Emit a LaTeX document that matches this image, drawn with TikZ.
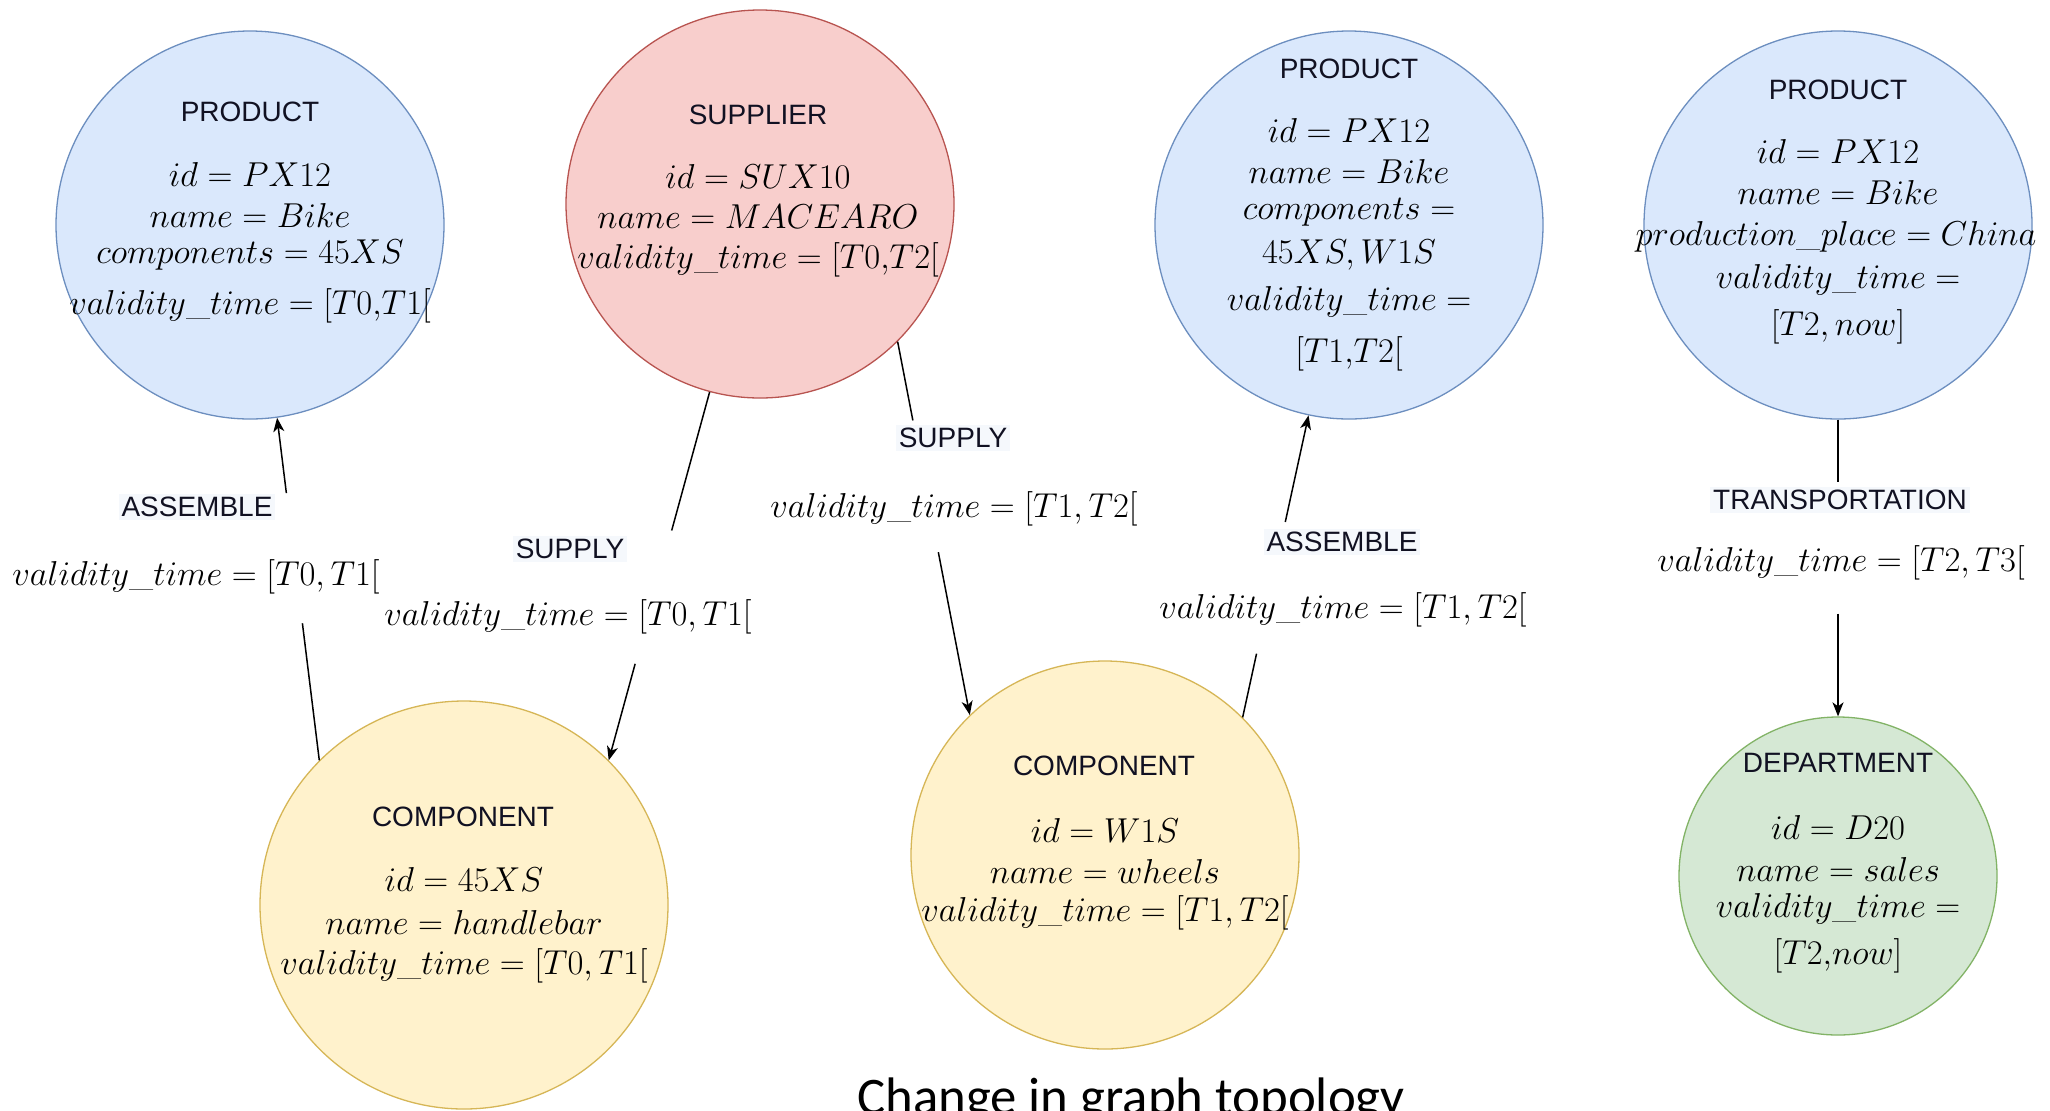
\documentclass[tikz,border=0pt]{standalone}
\usepackage{fontspec}
\setsansfont{Liberation Sans}
\newfontfamily\capfont{Carlito}
\usetikzlibrary{arrows.meta,calc}

\definecolor{bluefill}{HTML}{DAE8FC}
\definecolor{bluedraw}{HTML}{6C8EBF}
\definecolor{redfill}{HTML}{F8CECC}
\definecolor{reddraw}{HTML}{B85450}
\definecolor{yelfill}{HTML}{FFF2CC}
\definecolor{yeldraw}{HTML}{D6B656}
\definecolor{grnfill}{HTML}{D5E8D4}
\definecolor{grndraw}{HTML}{82B366}
\definecolor{lblbg}{HTML}{F5F8FC}
\definecolor{ink}{HTML}{111122}

\begin{document}
\begin{tikzpicture}[x=0.5pt,y=-0.5pt,
  ent/.style={circle,line width=0.65pt,inner sep=0pt,minimum size=194pt},
  bluent/.style={ent,fill=bluefill,draw=bluedraw},
  redent/.style={ent,fill=redfill,draw=reddraw},
  yelent/.style={ent,fill=yelfill,draw=yeldraw},
  grnent/.style={ent,fill=grnfill,draw=grndraw},
  ttl/.style={font=\sffamily\fontsize{14}{17}\selectfont,inner sep=0pt,text=ink},
  mth/.style={font=\fontsize{17.4}{21}\selectfont,inner sep=0pt},
  elbl/.style={font=\sffamily\fontsize{14}{17}\selectfont,fill=lblbg,inner sep=1.5pt,text=ink},
  conn/.style={line width=0.75pt},
  arr/.style={conn,-{Stealth[length=7pt,width=5.5pt,inset=2pt]}},
]
\path[use as bounding box] (0,0) rectangle (2050,1110);
\clip (0,0) rectangle (2050,1110);
\fill[white] (0,0) rectangle (2050,1110);

% entity circles
\node[bluent] (p1) at (250,225) {};
\node[redent] (sup) at (760,204) {};
\node[bluent] (p2) at (1349,225) {};
\node[bluent] (p3) at (1838,225) {};
\node[yelent,minimum size=204pt] (c1) at (464,905) {};
\node[yelent] (c2) at (1105,855) {};
\node[grnent,minimum size=159pt] (dep) at (1838,876) {};

% PRODUCT 1
\node[ttl] (p1t) at (250,112) {PRODUCT};
\node[mth] (p1a) at (250,174) {$id = PX12$};
\node[mth] (p1b) at (250,215) {$name = Bike$};
\node[mth] (p1c) at (250,255) {$components = 45XS$};
\node[mth] (p1d) at (250,306) {$validity\_time = [T0{,}T1[$};

% SUPPLIER
\node[ttl] (supt) at (758,115) {SUPPLIER};
\node[mth] (supa) at (758,176) {$id = SUX10$};
\node[mth] (supb) at (758,217) {$name = MACEARO$};
\node[mth] (supc) at (758,260) {$validity\_time = [T0{,}T2[$};

% PRODUCT 2
\node[ttl] (p2t) at (1349,69) {PRODUCT};
\node[mth] (p2a) at (1349,130) {$id = PX12$};
\node[mth] (p2b) at (1349,171) {$name = Bike$};
\node[mth] (p2c) at (1349,212) {$components =$};
\node[mth] (p2d) at (1349,255) {$45XS, W1S$};
\node[mth] (p2e) at (1349,302) {$validity\_time =$};
\node[mth] (p2f) at (1349,354) {$[T1{,}T2[$};

% PRODUCT 3
\node[ttl] (p3t) at (1838,90) {PRODUCT};
\node[mth] (p3a) at (1838,151) {$id = PX12$};
\node[mth] (p3b) at (1838,192) {$name = Bike$};
\node[mth] (p3c) at (1836,237) {$production\_place = China$};
\node[mth] (p3d) at (1838,280) {$validity\_time =$};
\node[mth] (p3e) at (1838,327) {$[T2, now]$};

% COMPONENT 1
\node[ttl] (c1t) at (463,817) {COMPONENT};
\node[mth] (c1a) at (464,879) {$id = 45XS$};
\node[mth] (c1b) at (464,922) {$name = handlebar$};
\node[mth] (c1c) at (464,966) {$validity\_time = [T0, T1[$};

% COMPONENT 2
\node[ttl] (c2t) at (1104,766) {COMPONENT};
\node[mth] (c2a) at (1105,830) {$id = W1S$};
\node[mth] (c2b) at (1105,871) {$name = wheels$};
\node[mth] (c2c) at (1105,913) {$validity\_time = [T1, T2[$};

% DEPARTMENT
\node[ttl] (dept) at (1838,763) {DEPARTMENT};
\node[mth] (depa) at (1838,827) {$id = D20$};
\node[mth] (depb) at (1838,869) {$name = sales$};
\node[mth] (depc) at (1838,909) {$validity\_time =$};
\node[mth] (depd) at (1838,956) {$[T2{,}now]$};

% connectors
\coordinate (a1s) at (c1.135);
\coordinate (a1e) at (p1.278);
\draw[conn] (a1s) -- ($(a1s)!0.40!(a1e)$);
\draw[arr] ($(a1s)!0.78!(a1e)$) -- (a1e);

\coordinate (s1s) at (sup.255);
\coordinate (s1e) at (c1.45);
\draw[conn] (s1s) -- ($(s1s)!0.376!(s1e)$);
\draw[arr] ($(s1s)!0.738!(s1e)$) -- (s1e);

\coordinate (s2s) at (sup.315);
\coordinate (s2e) at (c2.134);
\draw[conn] (s2s) -- ($(s2s)!0.211!(s2e)$);
\draw[arr] ($(s2s)!0.564!(s2e)$) -- (s2e);

\coordinate (a2s) at (c2.45);
\coordinate (a2e) at (p2.258);
\draw[conn] (a2s) -- ($(a2s)!0.211!(a2e)$);
\draw[arr] ($(a2s)!0.647!(a2e)$) -- (a2e);

\coordinate (ts) at (p3.270);
\coordinate (te) at (dep.90);
\draw[conn] (ts) -- ($(ts)!0.211!(te)$);
\draw[arr] ($(ts)!0.654!(te)$) -- (te);

% edge labels
\node[elbl] (la1) at (197,507) {ASSEMBLE};
\node[mth] (la1v) at (196,577) {$validity\_time = [T0, T1[$};
\node[elbl] (ls1) at (570,549) {SUPPLY};
\node[mth] (ls1v) at (568,617) {$validity\_time = [T0, T1[$};
\node[elbl] (ls2) at (953,438) {SUPPLY};
\node[mth] (ls2v) at (954,509) {$validity\_time = [T1, T2[$};
\node[elbl] (la2) at (1342,542) {ASSEMBLE};
\node[mth] (la2v) at (1343,610) {$validity\_time = [T1, T2[$};
\node[elbl] (lt) at (1840,500) {TRANSPORTATION};
\node[mth] (ltv) at (1841,563) {$validity\_time = [T2, T3[$};

% caption
\node[font=\capfont\fontsize{26.4}{30}\selectfont,anchor=base,inner sep=0pt] (cap) at (1131,1114) {Change in graph topology};
\end{tikzpicture}
\end{document}
